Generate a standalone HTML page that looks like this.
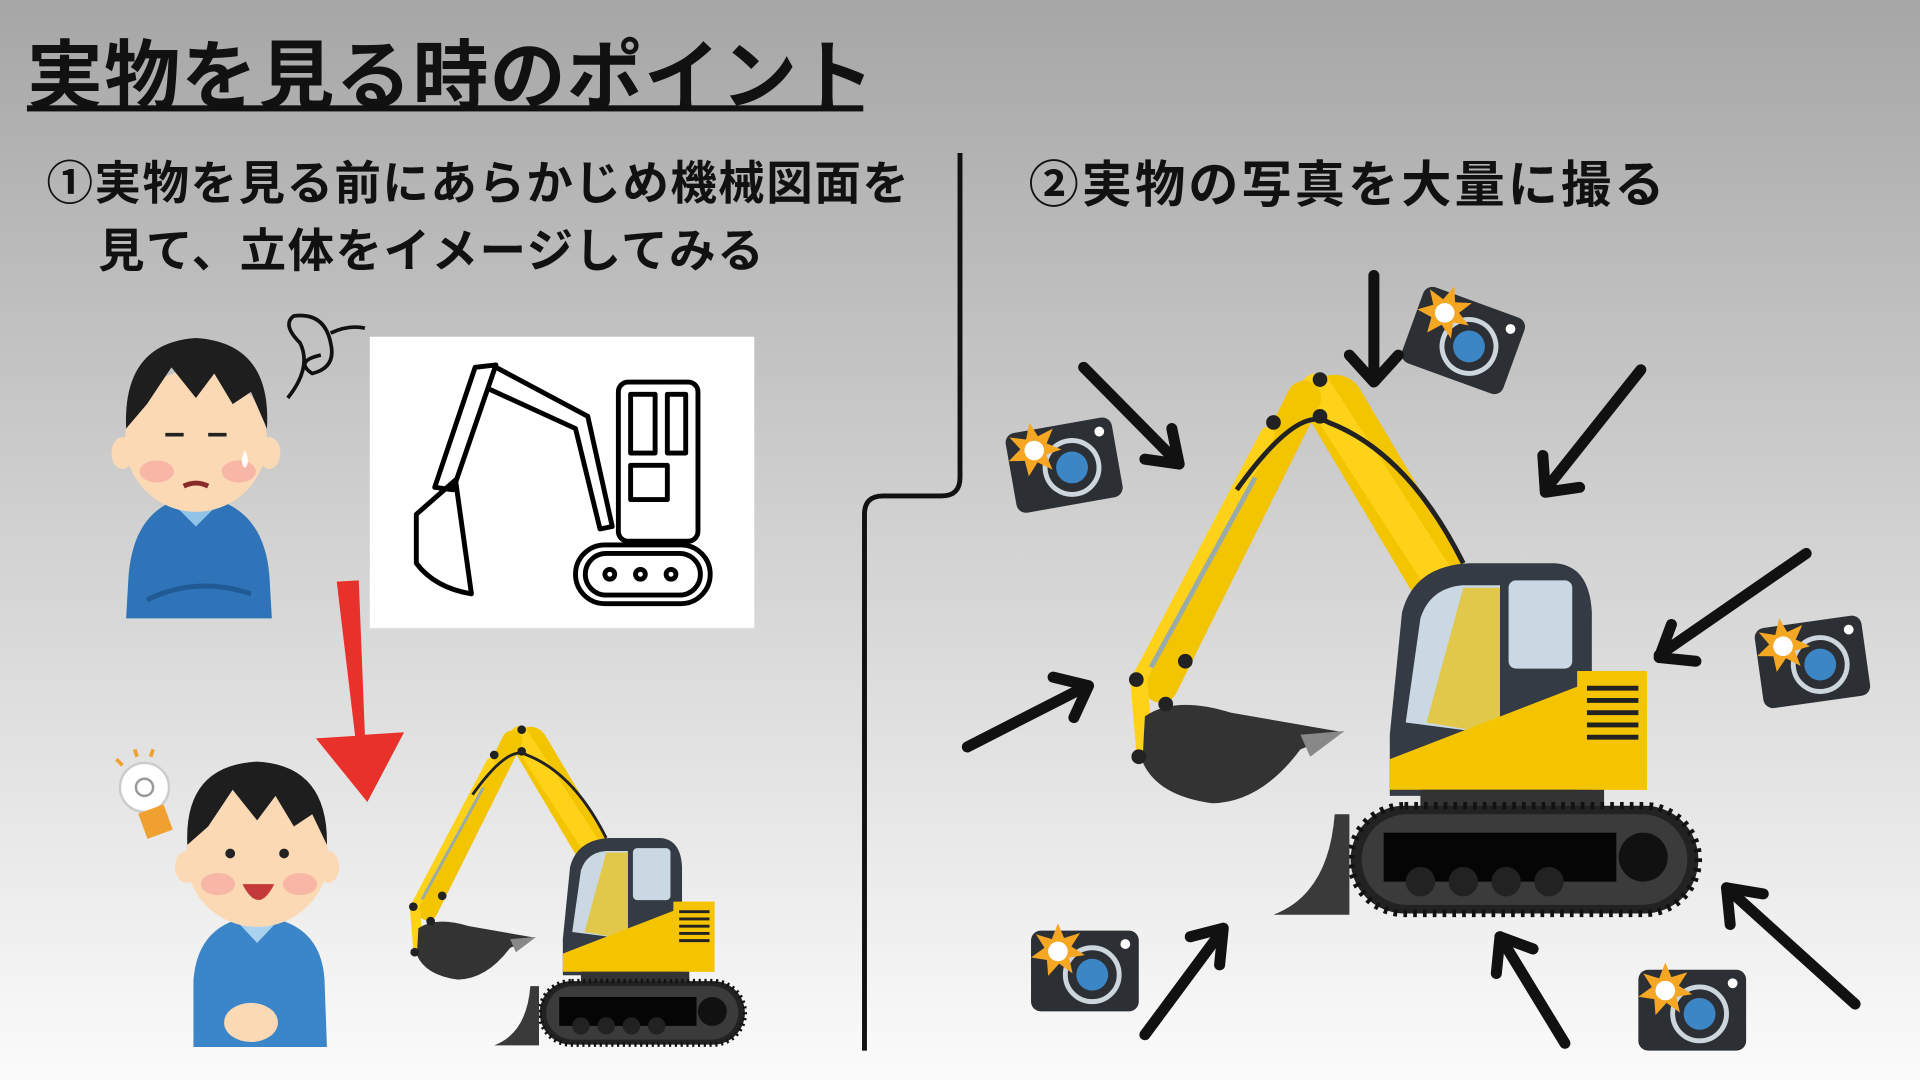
<!DOCTYPE html>
<html><head><meta charset="utf-8"><style>
html,body{margin:0;padding:0;width:1920px;height:1080px;overflow:hidden}
svg{display:block}
text{font-family:"Liberation Sans","Noto Sans CJK JP",sans-serif;font-weight:700;fill:#111}
</style></head><body>
<svg width="1920" height="1080" viewBox="0 0 1568 882" xmlns="http://www.w3.org/2000/svg">
<defs>
<linearGradient id="bg" x1="0" y1="0" x2="0" y2="1">
<stop offset="0" stop-color="#a6a6a6"/><stop offset="0.5" stop-color="#d2d2d2"/><stop offset="1" stop-color="#fbfbfb"/>
</linearGradient>
<g id="cam">
<rect x="0" y="0" width="88" height="66" rx="8" fill="#2c3035"/>
<circle cx="50" cy="36" r="22" fill="none" stroke="#cdd6dc" stroke-width="4"/>
<circle cx="50" cy="36" r="13" fill="#3d86c6"/>
<circle cx="77" cy="11" r="4" fill="#fff"/>
<polygon points="22,-6 27,6 40,2 33,13 44,20 31,22 34,35 23,27 14,37 13,24 0,22 11,14 4,3 17,7" fill="#f5a623"/>
<circle cx="22" cy="17" r="8" fill="#fff"/>
</g>
<g id="exc">
<line x1="1090" y1="330" x2="1185" y2="490" stroke="#f2c500" stroke-width="48" stroke-linecap="round"/>
<line x1="1075" y1="318" x2="1180" y2="480" stroke="#ffd21a" stroke-width="26" stroke-linecap="round"/>
<line x1="1065" y1="325" x2="948" y2="560" stroke="#f2c500" stroke-width="28" stroke-linecap="round"/>
<line x1="1035" y1="355" x2="930" y2="555" stroke="#ffd21a" stroke-width="12" stroke-linecap="round"/>
<line x1="1025" y1="390" x2="940" y2="545" stroke="#9aa" stroke-width="4"/>
<path d="M1010,400 Q1060,330 1085,345 Q1150,370 1195,460" fill="none" stroke="#222" stroke-width="4"/>
<line x1="930" y1="555" x2="935" y2="615" stroke="#ffd21a" stroke-width="14" stroke-linecap="round"/>
<path d="M935,585 Q960,568 1005,582 L1097,598 L1062,612 Q1030,655 990,656 Q945,650 933,622 Z" fill="#333"/>
<polygon points="1062,600 1098,597 1070,618" fill="#888"/>
<circle cx="1078" cy="310" r="6" fill="#222"/><circle cx="1078" cy="340" r="6" fill="#222"/><circle cx="1040" cy="345" r="6" fill="#222"/>
<circle cx="968" cy="540" r="6" fill="#222"/><circle cx="928" cy="555" r="6" fill="#222"/><circle cx="930" cy="618" r="6" fill="#222"/><circle cx="952" cy="575" r="6" fill="#222"/>
<path d="M1135,600 L1145,500 Q1155,462 1200,460 L1270,460 Q1298,462 1300,500 L1300,650 L1135,650 Z" fill="#343b44"/>
<path d="M1148,590 L1160,505 Q1168,480 1195,478 L1225,478 L1225,600 Z" fill="#c9d8e2"/>
<path d="M1165,590 L1195,480 L1225,480 L1225,600 Z" fill="#e2c84a"/>
<rect x="1232" y="474" width="52" height="72" rx="6" fill="#c9d8e2"/>
<path d="M1135,620 L1290,560 L1345,548 L1345,645 L1135,645 Z" fill="#f5c400"/>
<rect x="1288" y="548" width="57" height="97" fill="#f5c400"/>
<g stroke="#222" stroke-width="4"><line x1="1296" y1="562" x2="1338" y2="562"/><line x1="1296" y1="572" x2="1338" y2="572"/><line x1="1296" y1="582" x2="1338" y2="582"/><line x1="1296" y1="592" x2="1338" y2="592"/><line x1="1296" y1="602" x2="1338" y2="602"/></g>
<rect x="1160" y="645" width="150" height="18" fill="#333"/>
<rect x="1103" y="658" width="284" height="88" rx="44" fill="#222" stroke="#111" stroke-width="6" stroke-dasharray="3 5"/>
<rect x="1112" y="665" width="266" height="74" rx="37" fill="#3b3b3b"/>
<rect x="1130" y="680" width="190" height="40" fill="#050505"/>
<circle cx="1342" cy="700" r="20" fill="#111"/>
<circle cx="1160" cy="720" r="12" fill="#222"/><circle cx="1195" cy="720" r="12" fill="#222"/><circle cx="1230" cy="720" r="12" fill="#222"/><circle cx="1265" cy="720" r="12" fill="#222"/>
<path d="M1090,665 L1102,665 L1102,747 L1040,747 Q1085,730 1090,665 Z" fill="#3a3a3a"/>
</g>
</defs>
<rect width="1568" height="882" fill="url(#bg)"/>
<text x="22" y="84" font-size="62" letter-spacing="1">実物を見る時のポイント</text>
<rect x="22" y="86" width="683" height="5" fill="#111"/>
<text x="38" y="163" font-size="38" letter-spacing="1.2">①実物を見る前にあらかじめ機械図面を</text>
<text x="80" y="218" font-size="38" letter-spacing="1.2">見て、立体をイメージしてみる</text>
<text x="840" y="165" font-size="41" letter-spacing="2.5">②実物の写真を大量に撮る</text>
<path d="M784,125 L784,390 Q784,405 769,405 L721,405 Q706,405 706,420 L706,858" fill="none" stroke="#111" stroke-width="4"/>
<rect x="302" y="275" width="314" height="238" fill="#fff"/>
<g fill="none" stroke="#000" stroke-width="4" stroke-linejoin="round">
<path d="M388,300 L405,298 L370,400 L355,398 Z"/>
<path d="M405,300 L480,340 L500,430 L490,432 L470,350 L400,318"/>
<path d="M340,420 L372,392 L385,485 Q355,480 340,460 Z"/>
<rect x="505" y="312" width="65" height="130" rx="8"/>
<rect x="515" y="322" width="20" height="48"/><rect x="545" y="322" width="15" height="48"/><rect x="515" y="380" width="30" height="28"/>
<rect x="470" y="445" width="110" height="48" rx="24"/>
<rect x="478" y="452" width="94" height="34" rx="17"/>
<circle cx="498" cy="469" r="4"/><circle cx="523" cy="469" r="4"/><circle cx="548" cy="469" r="4"/>
</g>
<path d="M105,470 Q110,410 160,405 Q215,410 220,470 L222,505 L103,505 Z" fill="#2f74b8"/>
<path d="M140,410 L160,430 L180,410 Z" fill="#8fc3e8"/>
<path d="M120,490 Q160,470 205,485" stroke="#1f5a94" stroke-width="4" fill="none"/>
<ellipse cx="160" cy="360" rx="58" ry="58" fill="#fbd9b5"/>
<ellipse cx="100" cy="370" rx="9" ry="13" fill="#fbd9b5"/><ellipse cx="220" cy="370" rx="9" ry="13" fill="#fbd9b5"/>
<path d="M103,350 Q100,280 160,276 Q222,280 218,350 L205,320 L190,330 L175,305 L160,325 L140,300 L120,330 Z" fill="#1e1e1e"/>
<ellipse cx="128" cy="385" rx="14" ry="9" fill="#f6a8a0" opacity="0.7"/><ellipse cx="195" cy="385" rx="14" ry="9" fill="#f6a8a0" opacity="0.7"/>
<line x1="135" y1="355" x2="150" y2="355" stroke="#222" stroke-width="3"/><line x1="170" y1="355" x2="185" y2="355" stroke="#222" stroke-width="3"/>
<path d="M150,397 Q160,392 170,397" stroke="#8a2b2b" stroke-width="4" fill="none"/>
<path d="M200,368 Q205,378 200,382 Q195,378 200,368" fill="#fff"/>
<path d="M235,325 Q255,300 245,280 Q230,265 240,258 Q265,255 270,280 Q275,300 255,305 Q240,295 262,290 M270,272 Q285,265 298,268" fill="none" stroke="#111" stroke-width="3"/>
<polygon points="275,475 293,474 298,600 330,598 300,655 258,603 290,601" fill="#e8312a"/>
<path d="M158,800 Q162,752 210,748 Q262,752 265,800 L267,855 L158,855 Z" fill="#3b86c8"/>
<path d="M193,752 L210,770 L227,752 Z" fill="#a9d2ee"/>
<ellipse cx="205" cy="835" rx="22" ry="16" fill="#fbd9b5"/>
<ellipse cx="210" cy="700" rx="58" ry="57" fill="#fbd9b5"/>
<ellipse cx="152" cy="708" rx="9" ry="13" fill="#fbd9b5"/><ellipse cx="268" cy="708" rx="9" ry="13" fill="#fbd9b5"/>
<path d="M153,690 Q150,625 210,622 Q268,625 267,690 L255,665 L240,675 L225,650 L210,670 L190,645 L170,675 Z" fill="#1e1e1e"/>
<ellipse cx="178" cy="722" rx="14" ry="9" fill="#f6a8a0" opacity="0.7"/><ellipse cx="245" cy="722" rx="14" ry="9" fill="#f6a8a0" opacity="0.7"/>
<circle cx="188" cy="697" r="4" fill="#222"/><circle cx="232" cy="697" r="4" fill="#222"/>
<path d="M198,722 Q211,748 224,722 Z" fill="#c43a3a"/>
<circle cx="118" cy="643" r="20" fill="#fff" stroke="#ccc" stroke-width="2"/>
<circle cx="118" cy="643" r="7" fill="none" stroke="#999" stroke-width="2"/>
<rect x="116" y="660" width="22" height="22" transform="rotate(-20 127 671)" fill="#f0a030"/>
<g stroke="#f0a030" stroke-width="3"><line x1="95" y1="620" x2="100" y2="625"/><line x1="110" y1="612" x2="112" y2="618"/><line x1="125" y1="612" x2="123" y2="618"/></g>
<use href="#exc"/>
<use href="#exc" transform="translate(-210,413) scale(0.59)"/>
<use href="#cam" transform="translate(820,355) rotate(-10)"/>
<use href="#cam" transform="translate(1165,232) rotate(20)"/>
<use href="#cam" transform="translate(1432,514) rotate(-8)"/>
<use href="#cam" transform="translate(842,760)"/>
<use href="#cam" transform="translate(1338,792)"/>
<g fill="none" stroke="#111" stroke-width="9" stroke-linecap="round" stroke-linejoin="round">
<line x1="885" y1="300" x2="962" y2="378"/><polyline points="935,375 963,379 957,350"/>
<line x1="1122" y1="225" x2="1122" y2="310"/><polyline points="1102,290 1122,312 1142,290"/>
<line x1="1340" y1="302" x2="1262" y2="400"/><polyline points="1260,372 1262,402 1290,398"/>
<line x1="1475" y1="452" x2="1355" y2="535"/><polyline points="1365,510 1355,537 1385,540"/>
<line x1="790" y1="610" x2="888" y2="560"/><polyline points="860,553 889,560 877,586"/>
<line x1="935" y1="845" x2="998" y2="760"/><polyline points="972,765 999,758 996,788"/>
<line x1="1278" y1="852" x2="1225" y2="765"/><polyline points="1222,795 1225,765 1252,775"/>
<line x1="1515" y1="820" x2="1410" y2="725"/><polyline points="1413,755 1410,725 1440,730"/>
</g>
</svg>
</body></html>
